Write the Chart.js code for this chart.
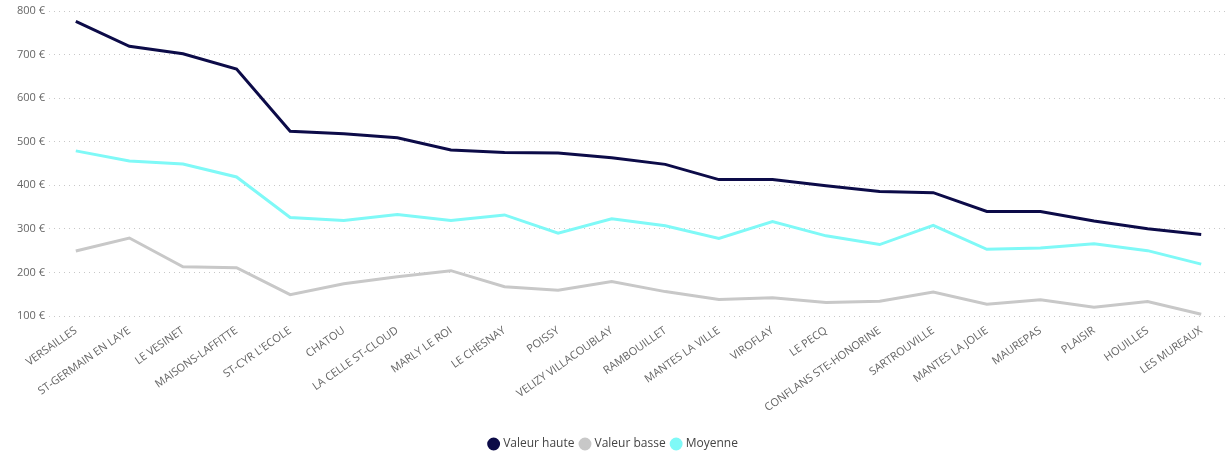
<!DOCTYPE html>
<html>
<head>
<meta charset="utf-8">
<script src="https://cdn.jsdelivr.net/npm/chart.js@4"></script>
<style>
  html, body { margin: 0; padding: 0; background: #fff; }
  #wrap { width: 1229px; height: 453px; }
</style>
</head>
<body>
<div id="wrap"><canvas id="loyerChart"></canvas></div>
<script>
const communes = ['VERSAILLES', 'ST-GERMAIN EN LAYE', 'LE VESINET', 'MAISONS-LAFFITTE', "ST-CYR L'ECOLE",
  'CHATOU', 'LA CELLE ST-CLOUD', 'MARLY LE ROI', 'LE CHESNAY', 'POISSY', 'VELIZY VILLACOUBLAY',
  'RAMBOUILLET', 'MANTES LA VILLE', 'VIROFLAY', 'LE PECQ', 'CONFLANS STE-HONORINE', 'SARTROUVILLE',
  'MANTES LA JOLIE', 'MAUREPAS', 'PLAISIR', 'HOUILLES', 'LES MUREAUX'];

const valeurHaute = [776, 719, 702, 667, 524, 518, 509, 481, 475, 474, 463, 448, 413, 413, 399, 386, 383, 340, 340, 318, 300, 287];
const valeurBasse = [249, 279, 213, 211, 149, 174, 190, 204, 167, 159, 179, 156, 138, 142, 131, 134, 155, 127, 137, 120, 133, 104];
const moyenne = [479, 456, 449, 419, 326, 319, 333, 319, 332, 290, 323, 307, 278, 317, 284, 264, 308, 253, 256, 266, 250, 219];

const yTicks = [100, 200, 300, 400, 500, 600, 700, 800];

const FONT = "'Segoe UI', 'Open Sans', sans-serif";

const ctx = document.getElementById('loyerChart');

const LoyerChart = new Chart(ctx, {
  type: 'line',
  data: {
    labels: communes,
    datasets: [{
      label: 'Valeur haute',
      data: valeurHaute,
      borderColor: '#0c0b48',
      backgroundColor: '#0c0b48',
      borderWidth: 3,
      pointRadius: 0,
      tension: 0
    },
    {
      label: 'Valeur basse',
      data: valeurBasse,
      borderColor: '#c8c8c8',
      backgroundColor: '#c8c8c8',
      borderWidth: 3,
      pointRadius: 0,
      tension: 0
    },
    {
      label: 'Moyenne',
      data: moyenne,
      borderColor: '#7ff9f7',
      backgroundColor: '#7ff9f7',
      borderWidth: 3,
      pointRadius: 0,
      tension: 0
    }]
  },
  options: {
    responsive: true,
    maintainAspectRatio: false,
    animation: false,
    layout: {
      padding: { top: 11, left: 0, right: 1, bottom: -7 }
    },
    plugins: {
      tooltip: { enabled: false },
      legend: {
        display: true,
        position: 'bottom',
        align: 'center',
        labels: {
          usePointStyle: true,
          pointStyle: 'circle',
          boxWidth: 7,
          boxHeight: 7,
          padding: 7,
          color: '#444',
          font: { family: FONT, size: 12 }
        }
      }
    },
    scales: {
      x: {
        offset: true,
        grid: { display: false },
        border: { display: false },
        ticks: {
          autoSkip: false,
          maxRotation: 35,
          minRotation: 35,
          padding: 0,
          color: '#666',
          font: { family: FONT, size: 11 }
        },
        afterFit: (scale) => { scale.height = 115; }
      },
      y: {
        min: 100,
        max: 800,
        afterBuildTicks: (scale) => { scale.ticks = yTicks.map(v => ({ value: v })); },
        afterFit: (scale) => { scale.width = 49; },
        border: { display: false, dash: [1, 4] },
        grid: {
          color: '#c8c8c8',
          lineWidth: 1,
          drawTicks: false
        },
        ticks: {
          padding: 4,
          color: '#666',
          font: { family: FONT, size: 11 },
          callback: (v) => v + ' €'
        }
      }
    }
  }
});
</script>
</body>
</html>
